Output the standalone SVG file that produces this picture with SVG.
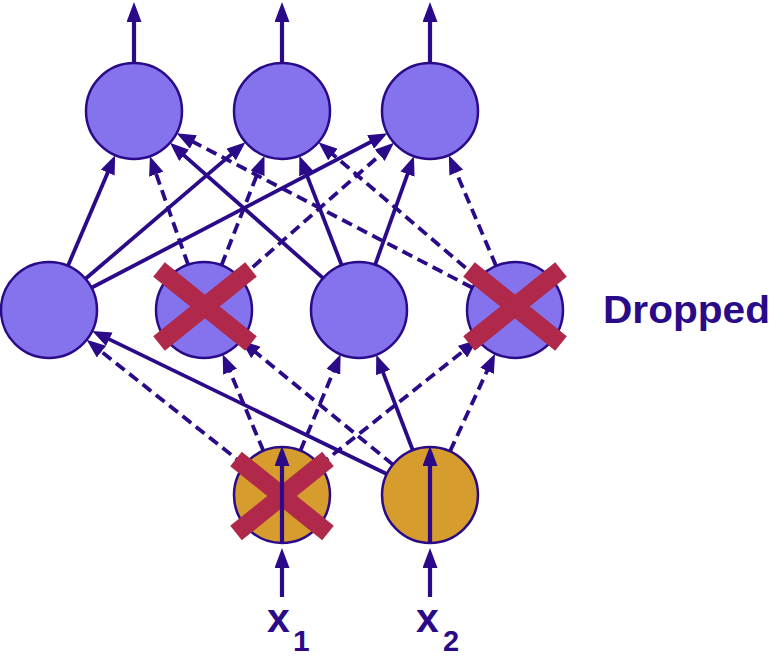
<svg xmlns="http://www.w3.org/2000/svg" width="778" height="663" viewBox="0 0 778 663">
<defs>
<marker id="ah" markerUnits="userSpaceOnUse" markerWidth="19" markerHeight="15" refX="13" refY="7.5" orient="auto">
<path d="M0,0 L19,7.5 L0,15 z" fill="#2a0a88"/>
</marker>
<marker id="ahb" markerUnits="userSpaceOnUse" markerWidth="20" markerHeight="15" refX="14" refY="7.5" orient="auto">
<path d="M0,0 L20,7.5 L0,15 z" fill="#2a0a88"/>
</marker>
</defs>
<style>
.e{stroke:#2a0a88;stroke-width:3.8;fill:none;marker-end:url(#ah)}
.d{stroke-dasharray:11 6}
.io{stroke:#2a0a88;stroke-width:4.2;fill:none;marker-end:url(#ahb)}
.h{fill:#8473ec;stroke:#2a0a88;stroke-width:2.5}
.in{fill:#d69d2e;stroke:#2a0a88;stroke-width:2.5}
.x{stroke:#b0294b;stroke-width:18.5;stroke-linecap:butt}
.t{font-family:"Liberation Sans",Arial,sans-serif;font-weight:bold;fill:#2a0a88}
</style>
<rect width="778" height="663" fill="#ffffff"/>
<g id="connectors">
<line class="e" x1="67.9" y1="265.9" x2="112.8" y2="160.7"/>
<line class="e" x1="85.5" y1="278.8" x2="240.9" y2="146.1"/>
<line class="e" x1="91.5" y1="287.8" x2="382.1" y2="136.0"/>
<line class="e d" x1="188.1" y1="264.7" x2="151.9" y2="161.9"/>
<line class="e d" x1="221.5" y1="265.3" x2="262.3" y2="161.3"/>
<line class="e d" x1="240.0" y1="278.3" x2="389.5" y2="146.7"/>
<line class="e" x1="323.1" y1="278.2" x2="174.4" y2="146.8"/>
<line class="e" x1="341.7" y1="265.2" x2="301.5" y2="161.4"/>
<line class="e" x1="375.1" y1="264.8" x2="411.9" y2="161.9"/>
<line class="e d" x1="472.5" y1="287.8" x2="181.9" y2="136.0"/>
<line class="e d" x1="478.5" y1="278.8" x2="323.1" y2="146.1"/>
<line class="e d" x1="496.1" y1="265.9" x2="451.2" y2="160.7"/>
<line class="e d" x1="244.4" y1="465.2" x2="91.3" y2="343.6"/>
<line class="e d" x1="263.4" y1="450.8" x2="225.0" y2="359.8"/>
<line class="e d" x1="300.4" y1="450.7" x2="338.3" y2="359.9"/>
<line class="e d" x1="319.6" y1="465.2" x2="472.7" y2="343.6"/>
<line class="e" x1="386.8" y1="474.0" x2="97.6" y2="333.6"/>
<line class="e d" x1="392.9" y1="464.6" x2="245.8" y2="344.2"/>
<line class="e" x1="412.8" y1="450.2" x2="378.4" y2="360.4"/>
<line class="e d" x1="450.0" y1="451.4" x2="492.5" y2="359.1"/>
<line class="io" x1="134" y1="63" x2="134" y2="8"/>
<line class="io" x1="282" y1="63" x2="282" y2="8"/>
<line class="io" x1="430" y1="63" x2="430" y2="8"/>
<line class="io" x1="282" y1="597" x2="282" y2="554"/>
<line class="io" x1="430" y1="597" x2="430" y2="554"/>
</g>
<g id="out1"><circle class="h" cx="134" cy="111" r="48"/></g>
<g id="out2"><circle class="h" cx="282" cy="111" r="48"/></g>
<g id="out3"><circle class="h" cx="430" cy="111" r="48"/></g>
<g id="hid1"><circle class="h" cx="49" cy="310" r="48"/></g>
<g id="hid2"><circle class="h" cx="204" cy="310" r="48"/>
<line class="x" x1="159" y1="269.5" x2="251" y2="343.5"/><line class="x" x1="251" y1="269.5" x2="159" y2="343.5"/></g>
<g id="hid3"><circle class="h" cx="359" cy="310" r="48"/></g>
<g id="hid4"><circle class="h" cx="515" cy="310" r="48"/>
<line class="x" x1="469" y1="269.5" x2="561" y2="343.5"/><line class="x" x1="561" y1="269.5" x2="469" y2="343.5"/></g>
<g id="in1"><circle class="in" cx="282" cy="495" r="48"/>
<line class="x" x1="236" y1="459" x2="328" y2="533"/><line class="x" x1="328" y1="459" x2="236" y2="533"/>
<line class="io" x1="282" y1="543" x2="282" y2="452"/></g>
<g id="in2"><circle class="in" cx="430" cy="495" r="48"/>
<line class="io" x1="430" y1="543" x2="430" y2="452"/></g>
<g id="labels">
<text class="t" x="267" y="632" font-size="41">x</text><text class="t" x="293" y="651" font-size="30">1</text>
<text class="t" x="416" y="632" font-size="41">x</text><text class="t" x="443" y="651" font-size="29">2</text>
<text class="t" x="603" y="323" font-size="39" textLength="167" lengthAdjust="spacingAndGlyphs">Dropped</text>
</g>
</svg>
